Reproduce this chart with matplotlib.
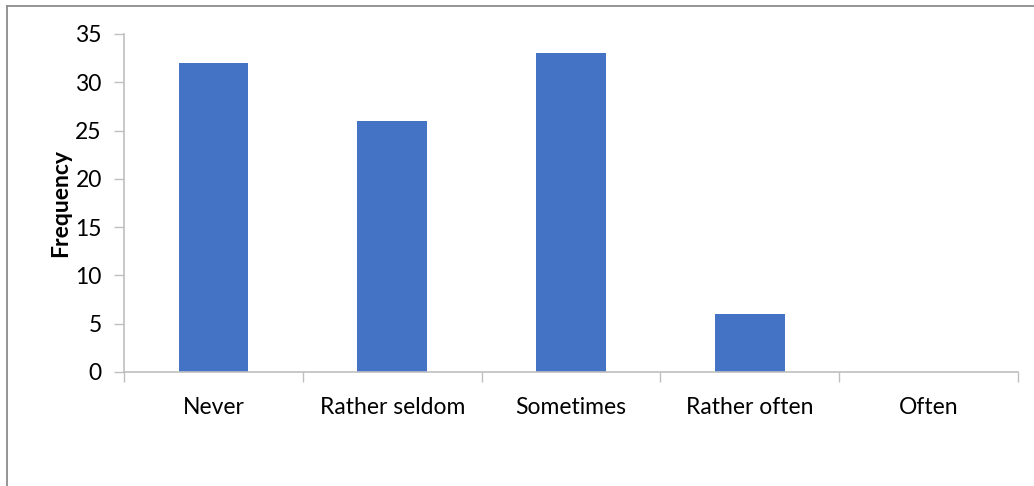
import matplotlib
matplotlib.use("Agg")
import matplotlib.pyplot as plt
from matplotlib.lines import Line2D
import numpy as np

categories = ["Never", "Rather seldom", "Sometimes", "Rather often", "Often"]
frequency = [32, 26, 33, 6, 0]
y_ticks = [0, 5, 10, 15, 20, 25, 30, 35]

plt.rcParams['font.family'] = ['Lato', 'DejaVu Sans']

W, H = 1034, 486
fig = plt.figure(figsize=(W / 100, H / 100), dpi=100)
ax = fig.add_axes([124 / W, 1 - 372 / H, (1018 - 124) / W, (372 - 34) / H])

axis_grey = '#bfbfbf'
x = np.arange(len(categories))
ax.bar(x, frequency, width=0.39, color='#4472c4', zorder=2)

ax.set_xlim(-0.5, len(categories) - 0.5)
ax.set_ylim(0, 35)
ax.set_yticks(y_ticks)
ax.tick_params(axis='y', labelsize=16.5, length=7, width=1, color=axis_grey, pad=9)

# category labels centred, tick marks between categories
ax.set_xticks(x)
ax.set_xticklabels(categories, fontsize=16.5)
ax.tick_params(axis='x', which='major', length=0, pad=18)
ax.set_xticks(np.arange(-0.5, len(categories)), minor=True)
ax.tick_params(axis='x', which='minor', length=7, width=1, color=axis_grey)

for s in ['top', 'right']:
    ax.spines[s].set_visible(False)
for s in ['left', 'bottom']:
    ax.spines[s].set_color(axis_grey)
    ax.spines[s].set_linewidth(1.2)

ax.set_ylabel("Frequency", fontsize=16.5, fontweight='bold', labelpad=3)

# outer chart frame (top and left edges visible)
frame_grey = '#8c8c8c'
fig.add_artist(Line2D([6.5 / W, 6.5 / W], [0, 1 - 6 / H], color=frame_grey, lw=1.3))
fig.add_artist(Line2D([6.5 / W, 1], [1 - 6 / H, 1 - 6 / H], color=frame_grey, lw=1.3))

plt.savefig("out.png", dpi=100)
